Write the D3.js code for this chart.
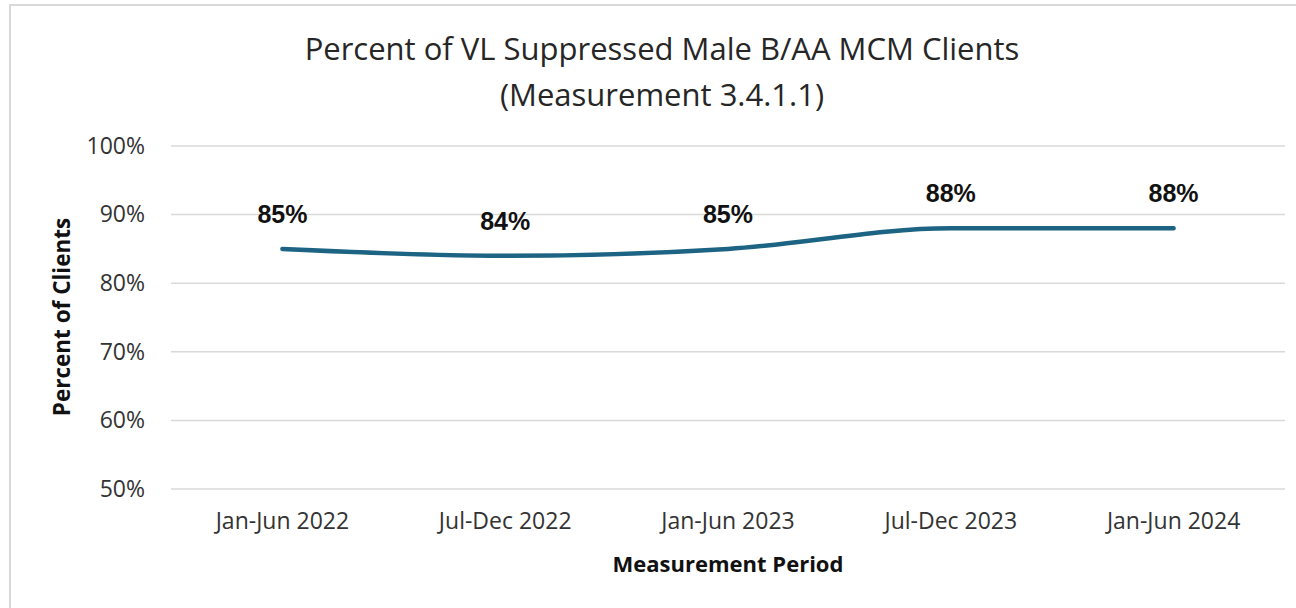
<!DOCTYPE html>
<html>
<head>
<meta charset="utf-8">
<script src="https://cdn.jsdelivr.net/npm/d3@7"></script>
<style>
  body { margin: 0; background: #fff; }
  svg text { font-family: "Open Sans", "Liberation Sans", sans-serif; }
</style>
</head>
<body>
<script>
var periods = ['Jan-Jun 2022', 'Jul-Dec 2022', 'Jan-Jun 2023', 'Jul-Dec 2023', 'Jan-Jun 2024'];
var suppressed = [85, 84, 85, 88, 88];
var yTicks = [50, 60, 70, 80, 90, 100];

var w = 1296;
var h = 608;
var margin = { top: 146, right: 11, bottom: 119, left: 171 };
var iw = w - margin.left - margin.right;
var ih = h - margin.top - margin.bottom;

var svg = d3.select('body').append('svg')
  .attr('width', w)
  .attr('height', h);

// chart frame (only the top and left edges show)
svg.append('path')
  .attr('d', 'M10,' + h + 'V5H' + w)
  .attr('fill', 'none')
  .attr('stroke', '#d9d9d9')
  .attr('stroke-width', 2);

var x = d3.scaleBand().domain(periods).range([0, iw]);
var y = d3.scaleLinear().domain([50, 100]).range([ih, 0]);

var g = svg.append('g')
  .attr('transform', 'translate(' + margin.left + ',' + margin.top + ')');

// gridlines
g.selectAll('line.grid')
  .data(yTicks)
  .enter()
  .append('line')
  .attr('class', 'grid')
  .attr('x1', 0)
  .attr('x2', iw)
  .attr('y1', function(d) { return y(d); })
  .attr('y2', function(d) { return y(d); })
  .attr('stroke', '#d9d9d9')
  .attr('stroke-width', 1.5);

// y axis labels
var yAxis = g.append('g')
  .call(d3.axisLeft(y).tickValues(yTicks).tickFormat(function(d) { return d + '%'; }).tickSize(0).tickPadding(26));
yAxis.select('.domain').remove();
yAxis.selectAll('text')
  .attr('font-size', 23)
  .attr('fill', '#333')
  .style('font-family', '"Open Sans", sans-serif');

// x axis labels
var xAxis = g.append('g')
  .attr('transform', 'translate(0,' + ih + ')')
  .call(d3.axisBottom(x).tickSize(0).tickPadding(24));
xAxis.select('.domain').remove();
xAxis.selectAll('text')
  .attr('font-size', 23)
  .attr('fill', '#333')
  .style('font-family', '"Open Sans", sans-serif');

// the line
var line = d3.line()
  .x(function(d, i) { return x(periods[i]) + x.bandwidth() / 2; })
  .y(function(d) { return y(d); })
  .curve(d3.curveMonotoneX);

g.append('path')
  .datum(suppressed)
  .attr('d', line)
  .attr('fill', 'none')
  .attr('stroke', '#1d6383')
  .attr('stroke-width', 4.5)
  .attr('stroke-linecap', 'round');

// data labels
g.selectAll('text.lbl')
  .data(suppressed)
  .enter()
  .append('text')
  .attr('class', 'lbl')
  .attr('x', function(d, i) { return x(periods[i]) + x.bandwidth() / 2; })
  .attr('y', function(d) { return y(d) - 26; })
  .attr('text-anchor', 'middle')
  .attr('font-size', 25)
  .attr('font-weight', 'bold')
  .attr('fill', '#111')
  .style('font-family', '"Liberation Sans", Arial, sans-serif')
  .text(function(d) { return d + '%'; });

// title
var title = svg.append('text')
  .attr('x', 662)
  .attr('text-anchor', 'middle')
  .attr('font-size', 31)
  .attr('fill', '#262626');
title.append('tspan').attr('x', 662).attr('y', 60).text('Percent of VL Suppressed Male B/AA MCM Clients');
title.append('tspan').attr('x', 662).attr('y', 106).text('(Measurement 3.4.1.1)');

// axis titles
svg.append('text')
  .attr('transform', 'translate(70,317) rotate(-90)')
  .attr('text-anchor', 'middle')
  .attr('font-size', 22.5)
  .attr('font-weight', 'bold')
  .attr('fill', '#111')
  .text('Percent of Clients');

svg.append('text')
  .attr('x', 728)
  .attr('y', 572)
  .attr('text-anchor', 'middle')
  .attr('font-size', 22)
  .attr('font-weight', 'bold')
  .attr('fill', '#111')
  .text('Measurement Period');
</script>
</body>
</html>
